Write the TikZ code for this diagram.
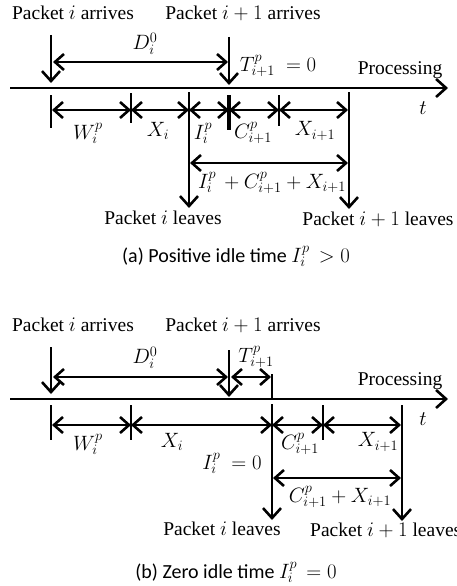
\documentclass[tikz,border=0pt]{standalone}
\usepackage{fontspec}
\setmainfont{Liberation Serif}
\newfontfamily\capfont{Carlito}
\usetikzlibrary{arrows.meta}
\tikzset{
  ln/.style={line width=2.6pt},
  tk/.style={line width=2.2pt},
  arr/.style={line width=2.6pt,-{Straight Barb[length=10pt,width=18pt,line width=2.6pt]}},
  darr/.style={line width=2.6pt,{Straight Barb[length=9pt,width=16pt,line width=2.6pt]}-{Straight Barb[length=9pt,width=16pt,line width=2.6pt]}},
  txt/.style={font=\fontsize{19.5}{22}\selectfont, inner sep=0pt},
  mlbl/.style={font=\fontsize{21}{24}\selectfont, inner sep=0pt},
  captxt/.style={font=\capfont\fontsize{20}{22}\selectfont, inner sep=0pt}
}
\begin{document}
\begin{tikzpicture}[x=1pt,y=-1pt]
\useasboundingbox (0,0) rectangle (456,586);
% ---------------- panel (a) ----------------
\node[txt] (aArrI) at (73,13) {Packet $i$ arrives};
\node[txt] (aArrJ) at (243,13) {Packet $i+1$ arrives};
\coordinate (aL0) at (10,88);
\coordinate (aL1) at (448,88);
\draw[arr] (aL0) -- (aL1);
\coordinate (aA1s) at (51,35); \coordinate (aA1e) at (51,83);
\coordinate (aA2s) at (229,37); \coordinate (aA2e) at (229,85);
\draw[arr] (aA1s) -- (aA1e);
\draw[arr] (aA2s) -- (aA2e);
\coordinate (aD0) at (53,62); \coordinate (aD1) at (228,62);
\draw[darr] (aD0) -- (aD1);
\node[mlbl] (aDl) at (145,44) {$D_i^0$};
\node[mlbl] (aTl) at (278,66) {$T^{p}_{i+1}\ = 0$};
\node[txt] (aProc) at (400,70) {Processing};
\node[mlbl] (at) at (423,108) {$t$};
% ticks
\coordinate (aT1s) at (51,95); \coordinate (aT1e) at (51,128);
\coordinate (aT2s) at (131,93); \coordinate (aT2e) at (131,123);
\coordinate (aT3s) at (189,92); \coordinate (aT3e) at (189,208);
\coordinate (aT4s) at (229,95); \coordinate (aT4e) at (229,130);
\coordinate (aT5s) at (279,95); \coordinate (aT5e) at (279,126);
\coordinate (aT6s) at (349,92); \coordinate (aT6e) at (349,209);
\draw[tk] (aT1s) -- (aT1e);
\draw[tk] (aT2s) -- (aT2e);
\draw[arr] (aT3s) -- (aT3e);
\draw[ln,line width=3.2pt] (aT4s) -- (aT4e);
\draw[tk] (aT5s) -- (aT5e);
\draw[arr] (aT6s) -- (aT6e);
% segment arrows
\coordinate (aS1) at (52,110); \coordinate (aS2) at (131,110); \coordinate (aS3) at (189,110);
\coordinate (aS4) at (229,110); \coordinate (aS5) at (279,110); \coordinate (aS6) at (348,110);
\draw[darr] (aS1) -- (aS2);
\draw[darr] (aS2) -- (aS3);
\draw[darr] (aS3) -- (aS4);
\draw[darr] (aS4) -- (aS5);
\draw[darr] (aS5) -- (aS6);
\node[mlbl] (aW) at (88,133) {$W_i^{p}$};
\node[mlbl] (aX) at (158,131) {$X_i$};
\node[mlbl] (aI) at (203,133) {$I_i^{p}$};
\node[mlbl] (aC) at (253,133) {$C^{p}_{i+1}$};
\node[mlbl] (aX1) at (315,131) {$X_{i+1}$};
\coordinate (aB0) at (190,163); \coordinate (aB1) at (348,163);
\draw[darr] (aB0) -- (aB1);
\node[mlbl] (aSum) at (272,183) {$I_i^{p}\,+C^{p}_{i+1}+X_{i+1}$};
\node[txt] (aLvI) at (163,218) {Packet $i$ leaves};
\node[txt] (aLvJ) at (378,219) {Packet $i+1$ leaves};
\node[captxt] (aCap) at (236,256) {(a) Positive idle time $I_i^{p}\,>0$};
% ---------------- panel (b) ----------------
\node[txt] (bArrI) at (73,325) {Packet $i$ arrives};
\node[txt] (bArrJ) at (243,325) {Packet $i+1$ arrives};
\coordinate (bL0) at (10,399);
\coordinate (bL1) at (448,399);
\draw[arr] (bL0) -- (bL1);
\coordinate (bA1s) at (51,347); \coordinate (bA1e) at (51,394);
\coordinate (bA2s) at (229,350); \coordinate (bA2e) at (229,397);
\draw[arr] (bA1s) -- (bA1e);
\draw[arr] (bA2s) -- (bA2e);
\coordinate (bD0) at (53,377); \coordinate (bD1) at (228,377);
\draw[darr] (bD0) -- (bD1);
\coordinate (bT0) at (231,377); \coordinate (bT1) at (271,377);
\draw[darr] (bT0) -- (bT1);
\coordinate (bU0) at (272,374); \coordinate (bU1) at (272,399);
\draw[tk] (bU0) -- (bU1);
\node[mlbl] (bDl) at (145,358) {$D_i^0$};
\node[mlbl] (bTl) at (256,357) {$T^{p}_{i+1}$};
\node[txt] (bProc) at (400,381) {Processing};
\node[mlbl] (bt) at (423,419) {$t$};
\coordinate (bT1s) at (51,405); \coordinate (bT1e) at (51,440);
\coordinate (bT2s) at (131,405); \coordinate (bT2e) at (131,440);
\coordinate (bT3s) at (272,404); \coordinate (bT3e) at (272,520);
\coordinate (bT4s) at (323,405); \coordinate (bT4e) at (323,440);
\coordinate (bT5s) at (402,405); \coordinate (bT5e) at (402,521);
\draw[tk] (bT1s) -- (bT1e);
\draw[tk] (bT2s) -- (bT2e);
\draw[arr] (bT3s) -- (bT3e);
\draw[tk] (bT4s) -- (bT4e);
\draw[arr] (bT5s) -- (bT5e);
\coordinate (bS1) at (52,425); \coordinate (bS2) at (131,425); \coordinate (bS3) at (272,425);
\coordinate (bS4) at (323,425); \coordinate (bS5) at (401,425);
\draw[darr] (bS1) -- (bS2);
\draw[darr] (bS2) -- (bS3);
\draw[darr] (bS3) -- (bS4);
\draw[darr] (bS4) -- (bS5);
\node[mlbl] (bW) at (88,444) {$W_i^{p}$};
\node[mlbl] (bX) at (172,442) {$X_i$};
\node[mlbl] (bC) at (300,444) {$C^{p}_{i+1}$};
\node[mlbl] (bX1) at (378,442) {$X_{i+1}$};
\node[mlbl] (bI) at (232,463) {$I_i^{p}\ = 0$};
\coordinate (bB0) at (273,478); \coordinate (bB1) at (401,478);
\draw[darr] (bB0) -- (bB1);
\node[mlbl] (bSum) at (340,497) {$C^{p}_{i+1}+X_{i+1}$};
\node[txt] (bLvI) at (222,529) {Packet $i$ leaves};
\node[txt,anchor=west] (bLvJ) at (310,530) {Packet $i+1$ leaves};
\node[captxt] (bCap) at (236,572) {(b) Zero idle time $I_i^{p}\,=0$};
\end{tikzpicture}
\end{document}
